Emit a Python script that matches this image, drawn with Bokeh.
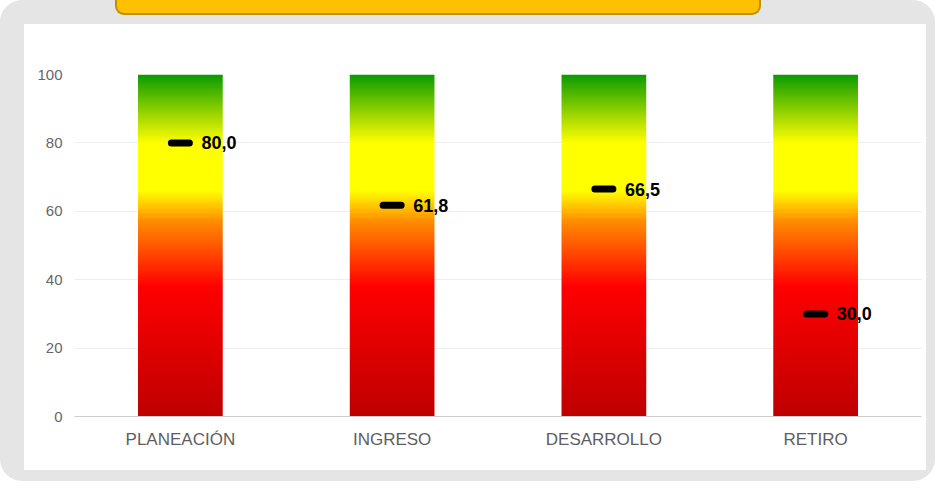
import numpy as np
from bokeh.plotting import figure
from bokeh.models import FixedTicker, Range1d, InlineStyleSheet
from bokeh.core.properties import value
from bokeh.embed import file_html
from bokeh.resources import INLINE

# ---- data ----
categories = ["PLANEACIÓN", "INGRESO", "DESARROLLO", "RETIRO"]
scores = [80.0, 61.8, 66.5, 30.0]
gauge_top = [100, 100, 100, 100]
y_ticks = [0, 20, 40, 60, 80, 100]

# ---- gradient (style) ----
stops = [
    (0.00, (190, 0, 0)),
    (0.38, (255, 0, 0)),
    (0.57, (255, 140, 0)),
    (0.66, (255, 255, 0)),
    (0.80, (255, 255, 0)),
    (0.90, (135, 205, 0)),
    (1.00, (10, 155, 0)),
]
N = 400
t = (np.arange(N) + 0.5) / N
pos = [s[0] for s in stops]
rgb = np.zeros((N, 3))
for c in range(3):
    rgb[:, c] = np.interp(t, pos, [s[1][c] for s in stops])
img = np.zeros((N, 2), dtype=np.uint32)
view = img.view(dtype=np.uint8).reshape((N, 2, 4))
for c in range(3):
    view[:, :, c] = np.round(rgb[:, c])[:, None].astype(np.uint8)
view[:, :, 3] = 255

W, H = 935, 481
css = """
:host {
  border-style: solid;
  border-color: #E5E5E5;
  border-width: 24px 9px 11px 24px;
  border-radius: 22px;
  position: relative;
}
:host::before {
  content: "";
  position: absolute;
  left: 91px;
  top: -24px;
  width: 642px;
  height: 13px;
  background: #FFC000;
  border: 2px solid #BF9000;
  border-top: none;
  border-radius: 0 0 9px 9px;
  z-index: 5;
}
"""
p = figure(width=W, height=H, output_backend="svg", toolbar_location=None,
           x_range=Range1d(0, len(categories)), y_range=Range1d(0, 100),
           min_border_left=50, min_border_right=38, min_border_top=50,
           min_border_bottom=89, stylesheets=[InlineStyleSheet(css=css)])
p.background_fill_color = "white"
p.border_fill_color = "white"
p.outline_line_color = None

centers = [i + 0.5 for i in range(len(categories))]
bw = 0.4

gr = p.image_rgba(image=[img] * len(categories), x=[c - bw / 2 for c in centers],
                  y=[0] * len(categories), dw=[bw] * len(categories), dh=gauge_top)
gr.level = "glyph"

p.scatter(x=centers, y=scores, marker="dash", size=18, line_width=7,
          line_color="black", line_cap="round")

labels = [f"{v:.1f}".replace(".", ",") for v in scores]
p.text(x=centers, y=scores, text=labels, x_offset=21, text_baseline="middle",
       text_align="left", text_font=value("Liberation Sans"), text_font_style="bold",
       text_font_size="18px", text_color="black")

# ---- axes ----
p.xaxis.ticker = FixedTicker(ticks=centers)
p.xaxis.major_label_overrides = {c: cat for c, cat in zip(centers, categories)}
p.xaxis.axis_line_color = "#CCCCCC"
p.xaxis.major_tick_line_color = None
p.xaxis.minor_tick_line_color = None
p.xaxis.major_tick_out = 0
p.xaxis.major_label_standoff = 13
p.xaxis.major_label_text_font = "Liberation Sans"
p.xaxis.major_label_text_font_size = "17px"
p.xaxis.major_label_text_color = "#5E5E5E"

p.yaxis.ticker = FixedTicker(ticks=y_ticks)
p.yaxis.axis_line_color = None
p.yaxis.major_tick_line_color = None
p.yaxis.minor_tick_line_color = None
p.yaxis.major_tick_out = 0
p.yaxis.major_label_standoff = 12
p.yaxis.major_label_text_font = "Liberation Sans"
p.yaxis.major_label_text_font_size = "15px"
p.yaxis.major_label_text_color = "#666666"

p.xgrid.grid_line_color = None
p.ygrid.ticker = FixedTicker(ticks=y_ticks)
p.ygrid.grid_line_color = "#EEEEEE"
p.ygrid.grid_line_width = 1

open("out.html", "w").write(file_html(p, INLINE))
